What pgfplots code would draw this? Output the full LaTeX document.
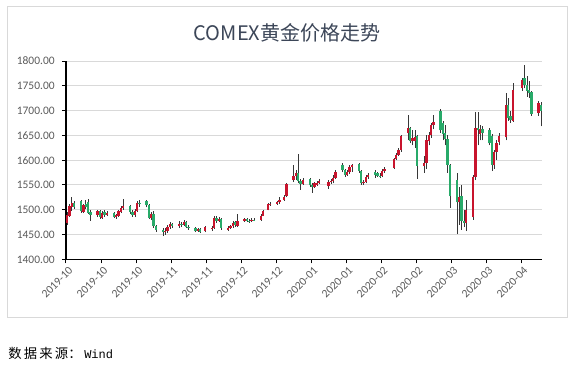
\documentclass[border=0pt]{standalone}
\usepackage{fontspec}
\setmainfont{Carlito}
\newfontfamily\cjk{Noto Sans CJK SC}
\newfontfamily\mono{Liberation Mono}
\usepackage{pgfplots}
\usepackage{pgfplotstable}
\pgfplotsset{compat=1.18}
\definecolor{upred}{RGB}{200,20,45}
\definecolor{dngreen}{RGB}{40,170,105}
\definecolor{wick}{RGB}{55,55,55}
\definecolor{gridgray}{RGB}{217,217,217}
\definecolor{labgray}{RGB}{89,89,89}
\definecolor{titlecol}{RGB}{60,70,88}
\definecolor{framegray}{RGB}{217,217,217}

% day = days since 2019-10-01
\pgfplotstableread{
d o h l c
0 1473 1495 1470 1490
1 1488 1512 1485 1507
2 1505 1525 1498 1514
7 1496 1512 1493 1509
13 1489 1500 1485 1497
15 1484 1497 1481 1494
17 1490 1497 1487 1494
21 1486 1492 1482 1489
22 1488 1500 1486 1497
23 1496 1508 1493 1504
24 1504 1521 1500 1507
29 1490 1502 1485 1498
30 1498 1518 1495 1514
36 1484 1496 1480 1492
42 1456 1464 1450 1457
43 1457 1469 1454 1465
44 1465 1475 1462 1472
48 1468 1477 1463 1472
50 1470 1480 1468 1475
56 1457 1464 1456 1461
59 1457 1467 1455 1465
62 1461 1468 1458 1464
63 1464 1488 1462 1484
65 1478 1485 1475 1482
69 1460 1467 1458 1464
70 1464 1470 1461 1467
71 1467 1477 1463 1474
73 1468 1491 1465 1478
76 1478 1483 1475 1481
79 1477 1483 1475 1480
83 1480 1491 1478 1488
84 1488 1500 1487 1498
86 1500 1514 1499 1511
87 1511 1516 1508 1512
90 1512 1518 1510 1516
91 1516 1525 1512 1520
93 1520 1530 1518 1526
94 1527 1555 1525 1551
97 1560 1590 1556 1568
98 1568 1580 1560 1574
101 1552 1565 1550 1560
106 1545 1557 1544 1554
107 1550 1558 1548 1554
108 1554 1562 1552 1559
112 1548 1560 1542 1556
113 1556 1562 1552 1558
114 1558 1570 1553 1565
115 1565 1580 1562 1577
120 1570 1580 1568 1577
121 1576 1590 1573 1587
122 1587 1593 1577 1590
127 1553 1560 1550 1557
128 1557 1570 1553 1566
129 1566 1575 1562 1571
135 1568 1582 1566 1578
136 1578 1586 1575 1583
140 1584 1605 1582 1603
141 1603 1614 1600 1611
142 1611 1625 1608 1620
143 1620 1650 1617 1648
146 1655 1691 1640 1665
148 1638 1660 1630 1645
149 1638 1660 1625 1646
153 1588 1608 1575 1594
154 1594 1650 1582 1641
155 1638 1657 1630 1650
156 1650 1675 1645 1670
157 1670 1692 1662 1678
168 1515 1545 1470 1525
171 1473 1520 1457 1500
174 1485 1570 1480 1566
175 1566 1698 1560 1665
177 1652 1670 1640 1662
183 1590 1620 1583 1616
184 1616 1640 1600 1635
185 1636 1655 1630 1648
188 1646 1735 1640 1712
191 1680 1755 1678 1742
195 1745 1765 1740 1762
202 1696 1720 1690 1715
}\up

\pgfplotstableread{
d o h l c
3 1514 1518 1502 1506
6 1518 1520 1494 1498
8 1511 1519 1501 1506
9 1516 1521 1491 1494
10 1495 1499 1478 1490
14 1497 1500 1482 1486
16 1495 1499 1486 1490
20 1494 1496 1483 1486
27 1507 1510 1492 1496
28 1496 1499 1485 1490
31 1514 1520 1506 1511
34 1518 1519 1505 1509
35 1509 1512 1481 1484
37 1492 1497 1464 1467
38 1467 1470 1456 1460
41 1460 1463 1447 1456
45 1472 1474 1464 1468
49 1472 1476 1466 1470
51 1476 1477 1463 1465
52 1465 1469 1460 1463
55 1463 1465 1455 1457
57 1461 1463 1453 1456
64 1484 1487 1474 1478
66 1482 1484 1460 1464
72 1475 1478 1465 1469
77 1481 1483 1476 1478
78 1478 1482 1474 1477
80 1480 1483 1477 1479
99 1574 1612 1553 1558
100 1558 1562 1540 1552
104 1562 1565 1546 1549
105 1549 1553 1534 1545
118 1590 1594 1576 1581
119 1580 1583 1567 1570
125 1592 1594 1575 1579
126 1579 1580 1550 1553
132 1577 1580 1565 1570
133 1574 1577 1566 1569
134 1569 1574 1564 1567
147 1665 1667 1634 1638
150 1648 1650 1563 1588
160 1700 1704 1655 1660
161 1676 1680 1640 1652
162 1655 1670 1630 1642
163 1642 1650 1575 1590
164 1590 1593 1504 1527
167 1560 1575 1451 1515
169 1528 1550 1460 1478
170 1478 1500 1465 1473
176 1665 1697 1630 1660
178 1662 1668 1640 1654
181 1660 1665 1630 1634
182 1648 1652 1578 1591
189 1712 1725 1680 1685
190 1690 1700 1675 1682
196 1765 1792 1745 1752
197 1752 1770 1728 1740
198 1742 1760 1725 1735
199 1738 1740 1690 1694
203 1712 1718 1668 1700
}\down

\begin{document}
\begin{tikzpicture}
\path[use as bounding box] (0,0) rectangle (436.5pt,-282.75pt);
\draw[framegray, line width=0.75pt] (5.25pt,-5.25pt) rectangle (425.25pt,-238pt);
\node[font=\cjk\fontsize{15}{18}\selectfont, text=titlecol] at (215.25pt,-24.75pt) {COMEX黄金价格走势};
\node[anchor=base west, inner sep=0pt, font=\fontsize{10}{12}\selectfont, text=black] at (6pt,-269pt) {{\cjk 数\,据\,来\,源：}\hspace{2pt}{\mono\fontsize{9}{10}\selectfont Wind}};
\begin{axis}[
  at={(49.5pt,-194.5pt)}, anchor=south west,
  scale only axis, width=357pt, height=148.7pt,
  xmin=-0.5, xmax=203.5, ymin=1400, ymax=1800,
  axis x line*=bottom, axis y line*=left,
  axis line style={black, line width=0.9pt, -},
  xtick={-0.5,14.5,29.5,44.5,59.5,74.5,89.5,104.5,119.5,134.5,149.5,164.5,179.5,194.5},
  xticklabels={2019-10,2019-10,2019-10,2019-11,2019-11,2019-12,2019-12,2020-01,2020-01,2020-02,2020-02,2020-03,2020-03,2020-04},
  ytick={1400,1450,1500,1550,1600,1650,1700,1750,1800},
  yticklabel style={/pgf/number format/fixed, /pgf/number format/fixed zerofill, /pgf/number format/precision=2, /pgf/number format/1000 sep={}, xshift=-2pt},
  /pgf/number format/assume math mode=true,
  ymajorgrids, grid style={gridgray, line width=0.75pt},
  tick style={black, line width=0.75pt}, tick align=outside, major tick length=3pt,
  ticklabel style={font=\fontsize{8.6}{10}\selectfont, text=labgray},
  xticklabel style={rotate=45, anchor=east, xshift=3pt, yshift=-5.5pt},
]
\addplot[draw=none, mark=none, forget plot, error bars/.cd, y dir=plus, y explicit, error mark=none, error bar style={draw=wick, line width=0.5pt}]
  table[x=d, y=l, y error plus expr=\thisrow{h}-\thisrow{l}] {\up};
\addplot[draw=none, mark=none, forget plot, error bars/.cd, y dir=plus, y explicit, error mark=none, error bar style={draw=wick, line width=0.5pt}]
  table[x=d, y=l, y error plus expr=\thisrow{h}-\thisrow{l}] {\down};
\addplot[draw=none, mark=none, forget plot, error bars/.cd, y dir=plus, y explicit, error mark=none, error bar style={draw=upred, line width=1.6pt}]
  table[x=d, y=o, y error plus expr=\thisrow{c}-\thisrow{o}] {\up};
\addplot[draw=none, mark=none, forget plot, error bars/.cd, y dir=plus, y explicit, error mark=none, error bar style={draw=dngreen, line width=1.6pt}]
  table[x=d, y=c, y error plus expr=\thisrow{o}-\thisrow{c}] {\down};
\end{axis}
\end{tikzpicture}
\end{document}
